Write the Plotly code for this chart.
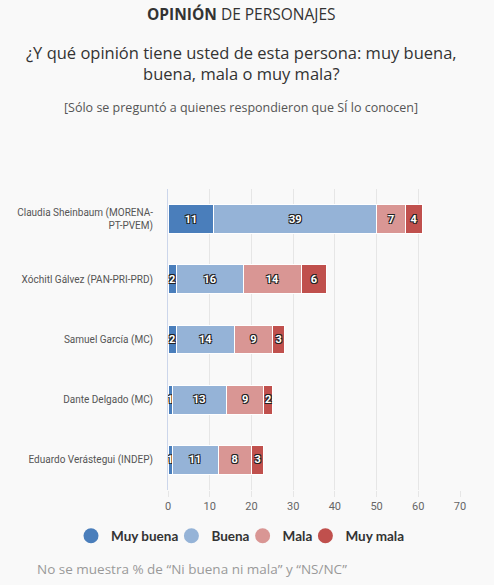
import plotly.graph_objects as go

categories = [
    "Claudia Sheinbaum (MORENA-<br>PT-PVEM)",
    "Xóchitl Gálvez (PAN-PRI-PRD)",
    "Samuel García (MC)",
    "Dante Delgado (MC)",
    "Eduardo Verástegui (INDEP)",
]
muy_buena = [11, 2, 2, 1, 1]
buena = [39, 16, 14, 13, 11]
mala = [7, 14, 9, 9, 8]
muy_mala = [4, 6, 3, 2, 3]
series_names = ["Muy buena", "Buena", "Mala", "Muy mala"]
series_values = [muy_buena, buena, mala, muy_mala]
colors = ["#4a7ebb", "#95b3d7", "#d99694", "#c0504d"]
x_ticks = [0, 10, 20, 30, 40, 50, 60, 70]

W, H = 494, 585
L, R, T, B = 168, 34, 189, 95
pw, ph = W - L - R, H - T - B


def px(x):
    return (x - L) / pw


def py(y):
    return (H - B - y) / ph


fig = go.Figure()
shadow = "-1px -1px 0 #222, 1px -1px 0 #222, -1px 1px 0 #222, 1px 1px 0 #222"
for name, vals, col in zip(series_names, series_values, colors):
    fig.add_trace(go.Bar(
        y=categories, x=vals, name=name, orientation="h",
        marker=dict(color=col, line=dict(color="white", width=1)),
        text=[str(v) for v in vals], textposition="inside",
        insidetextanchor="middle",
        textfont=dict(family="Roboto", size=11, color="white", weight="bold",
                      shadow=shadow),
        showlegend=False, hoverinfo="x+name",
    ))
for name, col in zip(series_names, colors):
    fig.add_trace(go.Scatter(
        x=[None], y=[None], mode="markers", name=name,
        marker=dict(color=col, size=15, symbol="circle"),
        showlegend=True,
    ))

fig.update_layout(
    width=W, height=H,
    barmode="stack", bargap=0.52,
    paper_bgcolor="#f9f9f9", plot_bgcolor="#f9f9f9",
    margin=dict(l=L, r=R, t=T, b=B, autoexpand=False),
    uniformtext=dict(minsize=11, mode="show"),
    font=dict(family="Roboto", color="#666"),
    xaxis=dict(range=[0, 70], tickvals=x_ticks, showgrid=True,
               gridcolor="#e6e6e6", gridwidth=1, zeroline=False,
               ticks="outside", ticklen=6, tickcolor="#e6e6e6",
               tickfont=dict(family="Roboto", size=11, color="#666"),
               automargin=False, fixedrange=True),
    yaxis=dict(categoryorder="array", categoryarray=categories,
               autorange="reversed", showgrid=False, zeroline=False,
               showline=True, linecolor="#ccd6eb", linewidth=1,
               ticks="", ticklabelstandoff=12, automargin=False,
               tickfont=dict(family="Roboto", size=10, color="#555"),
               fixedrange=True),
    legend=dict(orientation="h", xref="paper", yref="paper",
                x=px(83), xanchor="left", y=py(536), yanchor="middle",
                traceorder="normal", indentation=-12,
                font=dict(family="Lato", size=13.5, color="#333", weight="bold"),
                itemsizing="trace", bgcolor="rgba(0,0,0,0)", itemwidth=30),
    annotations=[
        dict(text="<b>OPINIÓN</b> DE PERSONAJES", x=px(241), y=py(14),
             xref="paper", yref="paper", showarrow=False,
             xanchor="center", yanchor="middle",
             font=dict(family="Open Sans", size=15.5, color="#333")),
        dict(text="¿Y qué opinión tiene usted de esta persona: muy buena,<br>buena, mala o muy mala?",
             x=px(241), y=py(63), xref="paper", yref="paper", showarrow=False,
             xanchor="center", yanchor="middle",
             font=dict(family="Open Sans", size=16.5, color="#333")),
        dict(text="[Sólo se preguntó a quienes respondieron que SÍ lo conocen]",
             x=px(241), y=py(107), xref="paper", yref="paper", showarrow=False,
             xanchor="center", yanchor="middle",
             font=dict(family="Open Sans", size=12.5, color="#555")),
        dict(text="No se muestra % de “Ni buena ni mala” y “NS/NC”",
             x=px(35), y=py(569), xref="paper", yref="paper", showarrow=False,
             xanchor="left", yanchor="middle",
             font=dict(family="Open Sans", size=13.5, color="#999")),
    ],
)

fig.write_html("out.html", config={"displayModeBar": False},
               post_script="document.body.style.margin='0';")
